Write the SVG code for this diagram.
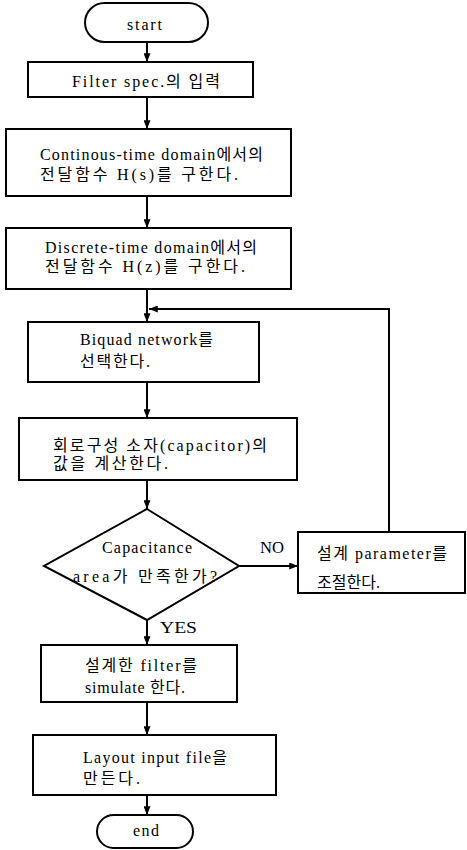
<svg xmlns="http://www.w3.org/2000/svg" width="467" height="850" viewBox="0 0 467 850">
<defs>
<style>
.box{fill:#fff;stroke:#000;stroke-width:2}
.ln{fill:none;stroke:#000;stroke-width:2}
text{font-family:"Liberation Serif","Noto Sans CJK KR",serif;font-size:16px;fill:#000}
.c{text-anchor:middle}
</style>
<marker id="ah" viewBox="0 0 10 8" refX="10" refY="4" markerWidth="9" markerHeight="7" markerUnits="userSpaceOnUse" orient="auto">
<path d="M0,0 L10,4 L0,8 z" fill="#000"/>
</marker>
</defs>
<rect width="467" height="850" fill="#fff"/>
<g id="connectors">
<line class="ln" x1="147" y1="42" x2="147" y2="62" marker-end="url(#ah)"/>
<line class="ln" x1="147" y1="97" x2="147" y2="129" marker-end="url(#ah)"/>
<line class="ln" x1="147" y1="196" x2="147" y2="228" marker-end="url(#ah)"/>
<line class="ln" x1="147" y1="289" x2="147" y2="322" marker-end="url(#ah)"/>
<line class="ln" x1="147" y1="382" x2="147" y2="418" marker-end="url(#ah)"/>
<line class="ln" x1="147" y1="480" x2="147" y2="509" marker-end="url(#ah)"/>
<line class="ln" x1="147" y1="620" x2="147" y2="645" marker-end="url(#ah)"/>
<line class="ln" x1="147" y1="702" x2="147" y2="735" marker-end="url(#ah)"/>
<line class="ln" x1="147" y1="795" x2="147" y2="815" marker-end="url(#ah)"/>
<line class="ln" x1="239" y1="566" x2="298" y2="566" marker-end="url(#ah)"/>
<polyline class="ln" points="389,532 389,309 149,309" marker-end="url(#ah)"/>
<text x="260" y="553" textLength="24" lengthAdjust="spacingAndGlyphs">NO</text>
<text x="160" y="633" textLength="37" lengthAdjust="spacingAndGlyphs">YES</text>
</g>
<g id="start">
<rect class="box" x="85" y="3" width="123" height="39" rx="19.5"/>
<text x="127" y="30" textLength="35" lengthAdjust="spacing">start</text>
</g>
<g id="filter-spec">
<rect class="box" x="28" y="62" width="225" height="35"/>
<text x="72" y="87" textLength="148" lengthAdjust="spacing">Filter spec.의 입력</text>
</g>
<g id="continuous">
<rect class="box" x="6" y="129" width="285" height="67"/>
<text x="40" y="160" textLength="223" lengthAdjust="spacing">Continous-time domain에서의</text>
<text x="40" y="180" textLength="198" lengthAdjust="spacing">전달함수 H(s)를 구한다.</text>
</g>
<g id="discrete">
<rect class="box" x="6" y="228" width="285" height="61"/>
<text x="45" y="253" textLength="212" lengthAdjust="spacing">Discrete-time domain에서의</text>
<text x="45" y="272" textLength="200" lengthAdjust="spacing">전달함수 H(z)를 구한다.</text>
</g>
<g id="biquad">
<rect class="box" x="28" y="322" width="231" height="60"/>
<text x="80" y="345" textLength="133" lengthAdjust="spacing">Biquad network를</text>
<text x="80" y="367" textLength="70" lengthAdjust="spacing">선택한다.</text>
</g>
<g id="capacitor">
<rect class="box" x="19" y="418" width="278" height="62"/>
<text x="53" y="451" textLength="214" lengthAdjust="spacing">회로구성 소자(capacitor)의</text>
<text x="53" y="469" textLength="115" lengthAdjust="spacing">값을 계산한다.</text>
</g>
<g id="decision">
<polygon class="box" points="147,509 239,566 147,620 44,566"/>
<text x="102" y="553" textLength="90" lengthAdjust="spacing">Capacitance</text>
<text x="73" y="582" textLength="144" lengthAdjust="spacing">area가 만족한가?</text>
</g>
<g id="adjust">
<rect class="box" x="298" y="532" width="167" height="61"/>
<text x="317" y="559" textLength="130" lengthAdjust="spacing">설계 parameter를</text>
<text x="317" y="588" textLength="63" lengthAdjust="spacing">조절한다.</text>
</g>
<g id="simulate">
<rect class="box" x="41" y="645" width="196" height="57"/>
<text x="85" y="671" textLength="112" lengthAdjust="spacing">설계한 filter를</text>
<text x="85" y="693" textLength="100" lengthAdjust="spacing">simulate 한다.</text>
</g>
<g id="layout">
<rect class="box" x="33" y="735" width="243" height="60"/>
<text x="83" y="763" textLength="144" lengthAdjust="spacing">Layout input file을</text>
<text x="83" y="784" textLength="57" lengthAdjust="spacing">만든다.</text>
</g>
<g id="end">
<rect class="box" x="97" y="815" width="96" height="33" rx="16.5"/>
<text x="133" y="836" textLength="26" lengthAdjust="spacing">end</text>
</g>
</svg>
